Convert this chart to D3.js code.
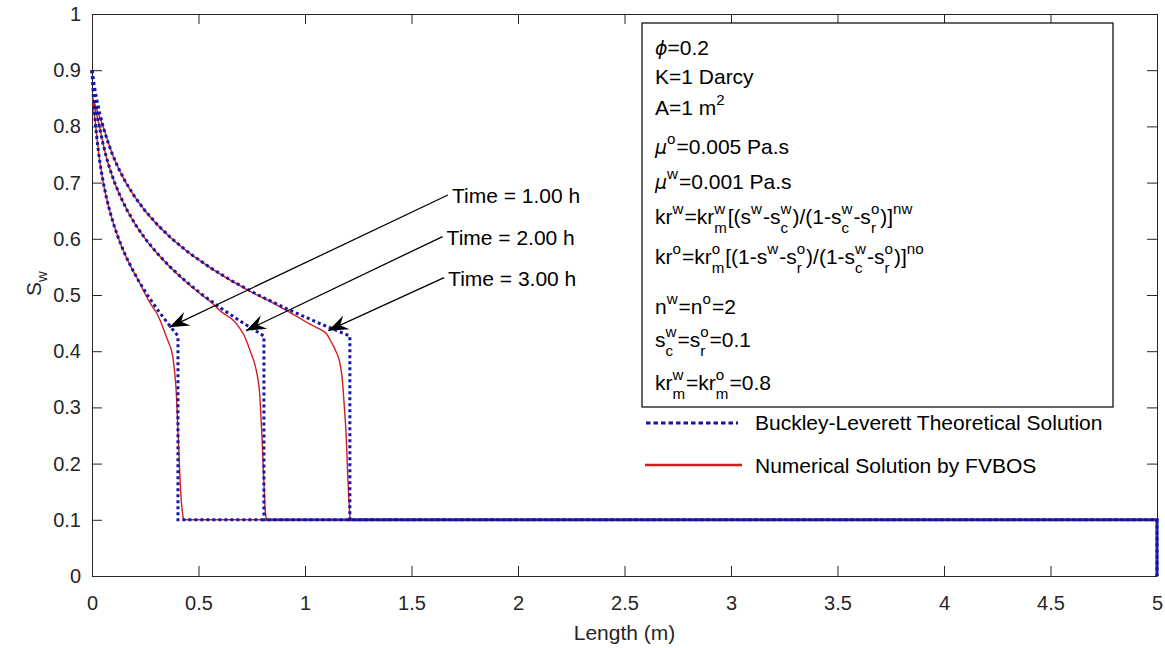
<!DOCTYPE html>
<html><head><meta charset="utf-8">
<script src="https://cdn.jsdelivr.net/npm/d3@7"></script>
<style>
body{margin:0;background:#fff}
text{font-family:"Liberation Sans",Arial,Helvetica,sans-serif}
</style>
</head><body>
<svg id="c" width="1165" height="648"></svg>
<script>
// ---------- data ----------
const xTicks = [0,0.5,1,1.5,2,2.5,3,3.5,4,4.5,5];
const xTickLabels = ["0","0.5","1","1.5","2","2.5","3","3.5","4","4.5","5"];
const yTicks = [0,0.1,0.2,0.3,0.4,0.5,0.6,0.7,0.8,0.9,1];
const yTickLabels = ["0","0.1","0.2","0.3","0.4","0.5","0.6","0.7","0.8","0.9","1"];

// Buckley-Leverett theoretical solution (saturation shared, positions per time)
const blS  = [0.9,0.875,0.85,0.825,0.8,0.775,0.75,0.725,0.7,0.675,0.65,0.625,0.6,0.575,0.55,0.525,0.5,0.475,0.45,0.427,0.1,0.1,0];
const blX1 = [0,0.0032,0.0071,0.0117,0.0173,0.0240,0.0320,0.0416,0.0531,0.0667,0.0830,0.1023,0.1251,0.1519,0.1832,0.2191,0.2600,0.3056,0.3551,0.4036,0.4036,5,5];
const blX2 = [0,0.0064,0.0142,0.0235,0.0346,0.0480,0.0641,0.0832,0.1061,0.1335,0.1660,0.2046,0.2502,0.3038,0.3664,0.4382,0.5199,0.6112,0.7102,0.8072,0.8072,5,5];
const blX3 = [0,0.0096,0.0213,0.0352,0.0519,0.0721,0.0961,0.1249,0.1592,0.2002,0.2490,0.3069,0.3753,0.4557,0.5495,0.6573,0.7799,0.9168,1.0653,1.2107,1.2107,5,5];

// Numerical solution by FVBOS
const num1X = [0.003,0.0175,0.032,0.053,0.083,0.125,0.183,0.219,0.252,0.282,0.305,0.325,0.343,0.360,0.374,0.383,0.390,0.395,0.399,0.402,0.406,0.410,0.415,0.420,0.424,0.428,0.433,5];
const num1S = [0.85,0.8,0.75,0.7,0.65,0.6,0.55,0.525,0.5,0.48,0.467,0.45,0.432,0.415,0.40,0.38,0.355,0.33,0.30,0.27,0.24,0.2,0.16,0.13,0.115,0.104,0.1,0.1];
const num2X = [0.003,0.035,0.064,0.106,0.166,0.250,0.366,0.437,0.515,0.56,0.601,0.635,0.663,0.690,0.710,0.728,0.742,0.758,0.770,0.779,0.786,0.791,0.795,0.799,0.804,0.809,0.812,0.817,0.822,5];
const num2S = [0.85,0.8,0.75,0.7,0.65,0.6,0.55,0.525,0.5,0.487,0.472,0.463,0.455,0.443,0.431,0.416,0.401,0.385,0.368,0.35,0.33,0.30,0.27,0.24,0.194,0.15,0.123,0.105,0.1,0.1];
const num3X = [0.003,0.052,0.096,0.159,0.249,0.375,0.549,0.655,0.775,0.845,0.914,0.97,1.023,1.065,1.101,1.125,1.145,1.160,1.170,1.177,1.183,1.188,1.192,1.196,1.199,1.204,1.208,1.211,1.216,5];
const num3S = [0.85,0.8,0.75,0.7,0.65,0.6,0.55,0.525,0.5,0.487,0.472,0.46,0.448,0.44,0.431,0.415,0.400,0.385,0.365,0.342,0.31,0.283,0.26,0.225,0.194,0.15,0.123,0.105,0.1,0.1];

// time annotations (arrow tip and tail in data units)
const annLabels = ["Time = 1.00 h","Time = 2.00 h","Time = 3.00 h"];
const annTipX  = [0.363,0.723,1.109];
const annTipS  = [0.4425,0.4365,0.4365];
const annTailX = [1.671,1.646,1.653];
const annTailS = [0.678,0.604,0.531];

const legendLabels = ["Buckley-Leverett Theoretical Solution","Numerical Solution by FVBOS"];

// ---------- drawing ----------
const svg = d3.select("#c");
const L=92, R=1157, T=14, B=576;
const x = d3.scaleLinear().domain([0,5]).range([L,R]);
const y = d3.scaleLinear().domain([0,1]).range([B,T]);
const axisCol = "#262626";
const blue = "#1515a8", red = "#d21e1e";

// axes
const gx = svg.append("g").attr("transform",`translate(0,${B})`)
  .call(d3.axisBottom(x).tickValues(xTicks).tickFormat((d,i)=>xTickLabels[i]).tickSizeInner(-10).tickSizeOuter(0).tickPadding(20));
const gy = svg.append("g").attr("transform",`translate(${L},0)`)
  .call(d3.axisLeft(y).tickValues(yTicks).tickFormat((d,i)=>yTickLabels[i]).tickSizeInner(-10).tickSizeOuter(0).tickPadding(11));
const gt = svg.append("g").attr("transform",`translate(0,${T})`)
  .call(d3.axisTop(x).tickValues(xTicks).tickFormat("").tickSizeInner(-10).tickSizeOuter(0));
const gr = svg.append("g").attr("transform",`translate(${R},0)`)
  .call(d3.axisRight(y).tickValues(yTicks).tickFormat("").tickSizeInner(-10).tickSizeOuter(0));
[gx,gy,gt,gr].forEach(g=>{
  g.selectAll("path,line").attr("stroke",axisCol).attr("stroke-width",1);
  g.selectAll("text").attr("fill",axisCol).style("font-size","20px").style("font-family",'"Liberation Sans",Arial,sans-serif');
});

// axis labels
svg.append("text").attr("x",(L+R)/2).attr("y",640).attr("text-anchor","middle")
  .attr("fill",axisCol).style("font-size","21px").text("Length (m)");
const yl = svg.append("text").attr("transform","translate(41,296) rotate(-90)").attr("fill",axisCol).style("font-size","21px");
yl.append("tspan").text("S");
yl.append("tspan").attr("dy",6).style("font-size","15px").text("w");

// curves
const line = d3.line().x(d=>x(d[0])).y(d=>y(d[1]));
const smooth = d3.line().x(d=>x(d[0])).y(d=>y(d[1])).curve(d3.curveMonotoneX);
const numSeries = [[num1X,num1S],[num2X,num2S],[num3X,num3S]];
numSeries.forEach(([xs,ss])=>{
  svg.append("path").datum(xs.map((v,i)=>[v,ss[i]])).attr("d",smooth)
    .attr("fill","none").attr("stroke",red).attr("stroke-width",1.4);
});
[blX1,blX2,blX3].forEach(xs=>{
  svg.append("path").datum(xs.map((v,i)=>[v,blS[i]])).attr("d",line)
    .attr("fill","none").attr("stroke",blue).attr("stroke-width",3).attr("stroke-dasharray","3,3");
});

// annotations
annLabels.forEach((lab,i)=>{
  const x1=x(annTailX[i]), y1=y(annTailS[i]), x2=x(annTipX[i]), y2=y(annTipS[i]);
  svg.append("line").attr("x1",x1).attr("y1",y1).attr("x2",x2).attr("y2",y2).attr("stroke","#000").attr("stroke-width",1.3);
  const ang = Math.atan2(y2-y1,x2-x1)*180/Math.PI;
  svg.append("path").attr("d","M0,0 L-20,-7.5 L-13,0 L-20,7.5 Z").attr("fill","#000")
    .attr("transform",`translate(${x2},${y2}) rotate(${ang})`);
  svg.append("text").attr("x",x1+4).attr("y",y1+8).style("font-size","21px").attr("fill","#000").text(lab);
});

// parameter box
svg.append("rect").attr("x",642).attr("y",23).attr("width",471).attr("height",384)
  .attr("fill","#fff").attr("stroke","#000").attr("stroke-width",1.2);

function rich(g, x0, y0, segs, fs){
  let cx = x0;
  const sfs = fs*0.72;
  segs.forEach(s=>{
    if (s.t!==undefined){
      const e = g.append("text").attr("x",cx).attr("y",y0).style("font-size",fs+"px").text(s.t);
      if (s.i) e.style("font-style","italic").style("font-family",'"DejaVu Sans",sans-serif').style("font-size",(fs*0.9)+"px");
      cx += e.node().getComputedTextLength();
    } else {
      let w = 0;
      if (s.sup!==undefined){ const e=g.append("text").attr("x",cx).attr("y",y0-fs*0.48).style("font-size",sfs+"px").text(s.sup); w=Math.max(w,e.node().getComputedTextLength()); }
      if (s.sub!==undefined){ const e=g.append("text").attr("x",cx).attr("y",y0+fs*0.42).style("font-size",sfs+"px").text(s.sub); w=Math.max(w,e.node().getComputedTextLength()); }
      cx += w + 1;
    }
  });
}
const boxLines = [
  [{t:"ϕ",i:true},{t:"=0.2"}],
  [{t:"K=1 Darcy"}],
  [{t:"A=1 m"},{sup:"2"}],
  [{t:"μ",i:true},{sup:"o"},{t:"=0.005 Pa.s"}],
  [{t:"μ",i:true},{sup:"w"},{t:"=0.001 Pa.s"}],
  [{t:"kr"},{sup:"w"},{t:"=kr"},{sup:"w",sub:"m"},{t:"[(s"},{sup:"w"},{t:"-s"},{sup:"w",sub:"c"},{t:")/(1-s"},{sup:"w",sub:"c"},{t:"-s"},{sup:"o",sub:"r"},{t:")]"},{sup:"nw"}],
  [{t:"kr"},{sup:"o"},{t:"=kr"},{sup:"o",sub:"m"},{t:"[(1-s"},{sup:"w"},{t:"-s"},{sup:"o",sub:"r"},{t:")/(1-s"},{sup:"w",sub:"c"},{t:"-s"},{sup:"o",sub:"r"},{t:")]"},{sup:"no"}],
  [{t:"n"},{sup:"w"},{t:"=n"},{sup:"o"},{t:"=2"}],
  [{t:"s"},{sup:"w",sub:"c"},{t:"=s"},{sup:"o",sub:"r"},{t:"=0.1"}],
  [{t:"kr"},{sup:"w",sub:"m"},{t:"=kr"},{sup:"o",sub:"m"},{t:"=0.8"}]
];
const boxBase = [55,84,115,154,189,224,264,314,347,390];
const bg = svg.append("g").attr("fill","#000");
boxLines.forEach((segs,i)=>rich(bg,655,boxBase[i],segs,21));

// legend
svg.append("line").attr("x1",646).attr("x2",738).attr("y1",423).attr("y2",423)
  .attr("stroke",blue).attr("stroke-width",3).attr("stroke-dasharray","4.5,3");
svg.append("line").attr("x1",645).attr("x2",742).attr("y1",465).attr("y2",465)
  .attr("stroke",red).attr("stroke-width",2.5);
svg.append("text").attr("x",755).attr("y",430).style("font-size","21px").text(legendLabels[0]);
svg.append("text").attr("x",755).attr("y",473).style("font-size","21px").text(legendLabels[1]);
</script>
</body></html>
